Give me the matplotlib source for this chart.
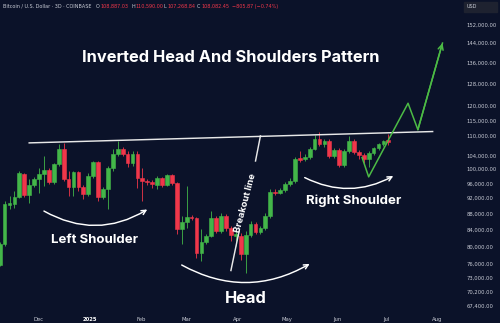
import numpy as np
import pandas as pd
import matplotlib
matplotlib.use("Agg")
import matplotlib.pyplot as plt
import matplotlib.dates as mdates
from matplotlib.patches import Rectangle

# 3D BTC/USD candles (thousands of USD)
opens = [75.9, 80.5, 90.1, 90.4, 92.3, 98.6, 92.8, 95.5, 97.2, 98.6,
         99.8, 96.4, 101.5, 106.1, 97.2, 95.0, 99.2, 95.0, 93.1, 98.1,
         102.1, 92.3, 94.4, 100.4, 104.5, 106.1, 104.5, 101.8, 104.5, 97.5,
         96.7, 96.4, 95.5, 97.5, 95.5, 98.4, 96.1, 84.1, 85.8, 87.0,
         86.8, 78.4, 80.9, 82.4, 86.8, 83.6, 87.3, 84.3, 82.4, 82.4,
         78.2, 82.6, 85.3, 83.3, 84.3, 87.3, 93.6, 93.3, 94.2, 95.8,
         96.7, 103.3, 103.0, 103.6, 106.1, 109.2, 107.6, 108.6, 103.9, 105.8,
         101.3, 105.5, 108.6, 105.1, 104.2, 103.0, 104.8, 106.4, 107.6, 108.887]
highs = [80.9, 91.2, 92.5, 93.9, 99.5, 98.9, 97.2, 97.8, 100.4, 103.9,
         100.4, 101.8, 107.6, 107.9, 99.5, 99.5, 99.5, 95.5, 98.9, 102.4,
         102.4, 95.0, 101.0, 106.1, 108.6, 106.7, 105.5, 105.5, 105.5, 100.4,
         97.2, 96.9, 98.1, 97.8, 98.6, 98.6, 96.4, 87.3, 95.3, 87.6,
         87.0, 84.1, 82.8, 88.6, 87.3, 88.1, 87.8, 84.8, 83.6, 83.1,
         83.6, 86.0, 85.8, 84.8, 88.1, 94.4, 94.4, 94.7, 96.4, 97.5,
         103.6, 105.5, 104.5, 106.7, 110.5, 111.4, 109.2, 109.2, 106.4, 106.4,
         106.1, 110.1, 109.2, 105.8, 104.8, 105.5, 106.7, 107.9, 108.9, 110.59]
lows = [75.5, 80.0, 89.1, 89.4, 92.0, 92.3, 90.7, 95.0, 93.3, 95.3,
        95.8, 95.8, 101.0, 96.7, 92.5, 92.5, 93.9, 91.7, 92.5, 97.5,
        91.2, 91.7, 89.1, 99.5, 103.9, 103.9, 100.7, 101.0, 94.7, 91.2,
        95.5, 94.7, 94.4, 95.0, 95.3, 95.5, 82.8, 80.5, 84.3, 86.3,
        77.3, 76.6, 80.5, 82.1, 83.1, 83.1, 83.6, 81.2, 80.0, 77.0,
        74.0, 82.1, 82.8, 82.8, 83.8, 86.8, 92.8, 93.1, 93.6, 95.3,
        96.1, 102.1, 102.4, 103.0, 105.8, 107.0, 106.7, 103.3, 103.3, 100.7,
        100.7, 104.8, 104.5, 103.0, 101.8, 100.7, 104.2, 105.8, 107.0, 107.268]
closes = [80.5, 90.4, 90.7, 92.3, 98.9, 92.8, 95.5, 97.2, 98.6, 99.8,
          96.4, 101.5, 106.1, 97.2, 95.0, 99.2, 95.0, 93.1, 98.1, 102.1,
          92.3, 94.4, 100.4, 104.5, 106.1, 104.5, 101.8, 104.5, 97.5, 96.7,
          96.4, 95.8, 97.5, 95.5, 98.4, 96.1, 84.1, 85.8, 87.0, 86.8,
          78.4, 80.9, 82.4, 86.8, 83.6, 87.3, 84.3, 82.6, 82.8, 78.2,
          82.6, 85.3, 83.3, 84.3, 87.3, 93.6, 93.3, 94.2, 95.8, 96.7,
          103.0, 102.7, 103.6, 106.1, 109.2, 107.6, 108.6, 103.9, 105.8, 101.3,
          105.5, 108.6, 105.1, 104.2, 103.0, 104.8, 106.4, 107.6, 108.6, 108.082]
dates = pd.date_range("2024-11-07", periods=len(opens), freq="3D")

# pattern annotations (date, price)
neck_dates = ["2024-11-25", "2025-07-29"]
neck_prices = [107900, 111500]
breakout_lo = [("2025-03-28", 74600), ("2025-04-02", 83600)]
breakout_hi = [("2025-04-12", 102400), ("2025-04-15", 110100)]
proj_dates = ["2025-06-16", "2025-06-20", "2025-07-14", "2025-07-20", "2025-08-04"]
proj_prices = [103400, 97800, 121000, 112100, 144000]
arcs = [(("2024-12-04", 88600), ("2025-02-05", 89000), 0.29),
        (("2025-02-26", 75800), ("2025-05-15", 76050), 0.28),
        (("2025-05-12", 97600), ("2025-07-05", 98050), 0.26)]

yticks = [152000, 144000, 136000, 128000, 120000, 115000, 110000, 104000, 100000,
          96000, 92000, 88000, 84000, 80000, 76000, 73000, 70200, 67400]
month_ticks = ["2024-12-01", "2025-01-01", "2025-02-01", "2025-03-01", "2025-04-01",
               "2025-05-01", "2025-06-01", "2025-07-01", "2025-08-01"]
month_labels = ["Dec", "2025", "Feb", "Mar", "Apr", "May", "Jun", "Jul", "Aug"]

bg = "#0b1229"
green = "#43b649"
red = "#f0374a"
txt = "#c9ccd6"

def dn(d):
    return mdates.date2num(pd.Timestamp(d))

fig = plt.figure(figsize=(5, 3.23), dpi=100, facecolor=bg)
ax = fig.add_axes([0, 11 / 323, 462 / 500, 312 / 323])
ax.set_facecolor(bg)

x = mdates.date2num(dates)
o = np.array(opens) * 1000
h = np.array(highs) * 1000
l = np.array(lows) * 1000
c = np.array(closes) * 1000
cols = [green if cc >= oo else red for oo, cc in zip(o, c)]
ax.vlines(x, l, h, colors=cols, lw=0.6, zorder=2)
ax.bar(x, np.abs(c - o), bottom=np.minimum(o, c), width=2.3, color=cols,
       edgecolor=cols, lw=0.4, zorder=3)

ax.set_yscale("log")
ax.set_ylim(66170, 163100)
x0 = dn("2024-12-01")
ax.set_xlim(x0 - 23.8, x0 + 257.9)

# neckline and breakout line
ax.plot([dn(d) for d in neck_dates], neck_prices, color="#e8e8e8", lw=1.05, zorder=4)
for seg in (breakout_lo, breakout_hi):
    ax.plot([dn(d) for d, _ in seg], [p for _, p in seg], color="#e8e8e8", lw=1.05, zorder=4)

# projected path
px = [dn(d) for d in proj_dates]
ax.plot(px, proj_prices, color="#4cbb45", lw=1.1, zorder=5)
ax.annotate("", xy=(px[-1], proj_prices[-1]), xytext=(px[-2], proj_prices[-2]),
            arrowprops=dict(arrowstyle="->", color="#4cbb45", lw=1.1,
                            mutation_scale=9, shrinkA=0, shrinkB=0), zorder=5)

for (d1, p1), (d2, p2), rad in arcs:
    ax.annotate("", xy=(dn(d2), p2), xytext=(dn(d1), p1),
                arrowprops=dict(arrowstyle="->", color="white", lw=1.05,
                                mutation_scale=8, shrinkA=0, shrinkB=0,
                                connectionstyle=f"arc3,rad={rad}"))

font = ["Inter", "DejaVu Sans"]
ax.text(dn("2025-03-28"), 138200, "Inverted Head And Shoulders Pattern", color="white",
        fontsize=11.8, fontweight="bold", ha="center", va="center", family=font)
ax.text(dn("2025-01-04"), 81600, "Left Shoulder", color="white", fontsize=9.5,
        fontweight="bold", ha="center", va="center", family=font)
ax.text(dn("2025-06-11"), 91200, "Right Shoulder", color="white", fontsize=9.5,
        fontweight="bold", ha="center", va="center", family=font)
ax.text(dn("2025-04-06"), 68900, "Head", color="white", fontsize=11.8,
        fontweight="bold", ha="center", va="center", family=font)
ax.text(dn("2025-04-06"), 90700, "Breakout line", color="white", fontsize=6.8,
        fontweight="bold", ha="center", va="center", rotation=75, family=font)

ax.yaxis.tick_right()
ax.set_yticks(yticks)
ax.set_yticklabels([f"{v:,.2f}" for v in yticks])
ax.yaxis.set_minor_locator(matplotlib.ticker.NullLocator())
ax.set_xticks([dn(d) for d in month_ticks])
ax.set_xticklabels(month_labels)
ax.tick_params(axis="y", length=0, pad=3, labelsize=3.8, labelcolor=txt)
ax.tick_params(axis="x", length=0, pad=3.5, labelsize=3.8, labelcolor=txt)
for lab in ax.get_xticklabels():
    if lab.get_text() == "2025":
        lab.set_fontweight("bold")
        lab.set_color("white")
for s in ax.spines.values():
    s.set_visible(False)

# USD box
fig.patches.append(Rectangle((464 / 500, 1 - 12 / 323), 33 / 500, 10 / 323,
                             transform=fig.transFigure, color="#1e2230"))
fig.text(467 / 500, 1 - 7 / 323, "USD", color=txt, fontsize=3.5, va="center")

# header
hy = 1 - 6.5 / 323
pieces = [(3, "Bitcoin / U.S. Dollar · 3D · COINBASE", txt),
          (96, "O", txt), (100, "108,887.03", red),
          (131, "H", txt), (135, "110,590.00", red),
          (164, "L", txt), (167, "107,268.84", red),
          (197, "C", txt), (201, "108,082.45", red),
          (232, "\u2212805.87 (\u22120.74%)", red)]
for px_, s, col in pieces:
    fig.text(px_ / 500, hy, s, color=col, fontsize=3.5, va="center")

fig.savefig("out.png", dpi=100, facecolor=bg)
